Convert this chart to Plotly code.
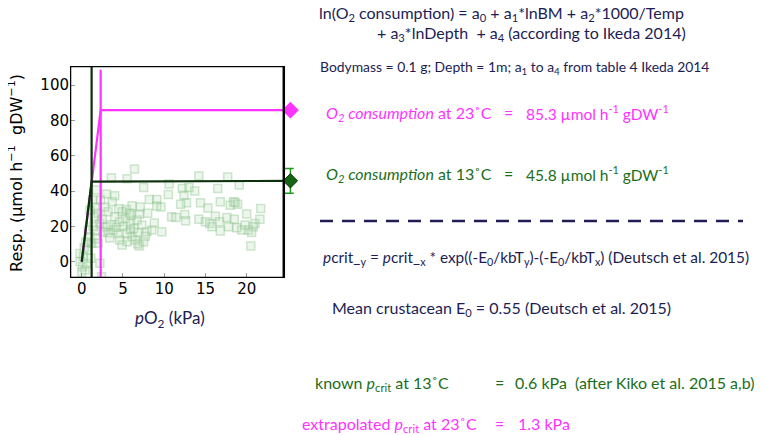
import plotly.graph_objects as go

obs_po2 = [6.4, 5.5, 3.6, 14.2, 17.7, 10.6, 7.5, 19.1, 12.2, 13.0, 13.7, 16.5, 3.0, 4.0,
           10.5, 8.2, 9.1, 12.4, 3.7, 12.7, 14.4, 16.8, 18.4, 18.9, 18.0, 18.6, 9.1, 9.6,
           7.1, 6.1, 5.4, 4.9, 3.2, 12.0, 15.3, 21.7, 20.0, 2.0, 8.0, 10.9, 11.4, 12.5,
           12.6, 16.2, 17.6, 18.5, 14.2, 15.0, 15.5, 16.7, 17.8, 18.8, 15.8, 16.8, 21.6,
           21.0, 20.8, 20.2, 19.4, 20.6, 20.5, 19.8, 9.7, 7.9, 7.3, 6.7, 5.9, 5.3, 4.6,
           4.0, 2.2, 1.8, 2.6, 3.2, 3.8, 4.4, 4.6, 5.5, 6.1, 6.5, 7.0, 7.5, 5.5, 5.9,
           1.0, 1.2, 0.6, 0.2, -0.2, 0.1, 0.4, -0.2, 2.2, 2.4, 3.0, 1.5, 1.6, 1.8, 1.3,
           1.0, 2.5, 3.5, 4.2, 5.0, 6.3, 6.8, 7.7, 8.5, 8.8, 6.0, 7.0, 5.8, 4.5, 2.8,
           2.3, 1.4, 0.8, 0.5, 0.3, 1.7, 2.0, 3.4, 4.9, 6.8, 0.0, 0.6, 1.1]
obs_resp = [52.5, 47.0, 47.5, 48.5, 48.0, 44.0, 42.0, 43.4, 41.5, 42.0, 40.0, 41.5, 38.3, 37.4,
            38.0, 35.3, 35.3, 37.7, 34.0, 33.4, 33.4, 34.0, 34.0, 32.5, 32.0, 33.5, 31.5, 31.0,
            31.0, 31.7, 29.6, 28.3, 28.3, 32.5, 30.4, 30.2, 27.0, 27.4, 27.4, 25.5, 25.0, 26.8,
            23.2, 25.8, 25.0, 24.0, 24.0, 22.6, 21.7, 22.6, 19.8, 19.2, 19.8, 17.4, 24.0,
            21.7, 19.8, 17.9, 17.9, 16.6, 8.9, 20.8, 17.0, 17.0, 20.8, 23.6, 21.7, 24.5, 22.6,
            25.5, 21.7, 17.9, 17.0, 16.4, 17.9, 16.0, 12.3, 11.3, 14.2, 12.3, 8.9, 11.3, 16.4, 18.3,
            14.2, 10.4, 6.6, 2.8, 0.0, -2.8, -4.7, 4.7, -0.9, -8.5, 19.8, 25.5, 31.0, 40.6, 34.9,
            29.2, 24.0, 21.0, 19.5, 20.0, 19.0, 16.5, 14.5, 18.0, 22.0, 26.5, 27.0, 27.5, 30.0, 31.0,
            35.0, 20.0, 18.0, 11.0, 8.0, 13.0, 10.5, 13.5, 9.5, 10.0, -6.0, -1.0, 2.0]

# model curves (linear up to pcrit, then plateau)
warm_x = [0, 2.3, 25.3]
warm_y = [0, 85.8, 85.8]
cold_x = [0, 1.2, 25.3]
cold_y = [0, 45.3, 45.8]

# pcrit verticals
warm_pcrit_x = [2.3, 2.3]
warm_pcrit_y = [-9.2, 108.7]
cold_pcrit_x = [1.2, 1.2]
cold_pcrit_y = [-9.2, 110.8]

# predicted consumption (Ikeda 2014) at the right edge
warm_pred_x = [25.3]
warm_pred_y = [85.8]
cold_pred_x = [25.3]
cold_pred_y = [45.8]
cold_pred_err = [7.0]

x_ticks = [0, 5, 10, 15, 20]
y_ticks = [0, 20, 40, 60, 80, 100]
x_range = [-1.42, 25.7]
x_box_right = 24.5
y_range = [-9.2, 110.8]

# page body has an 8px margin, so the figure is placed 8px in from the corner
OFF = 8
W, H = 765 - OFF, 435 - OFF
NAVY = "#211d54"
MAGENTA = "#ff33ff"
GREEN = "#1b6e1b"
DARK = "#0b300b"
TXT_FONT = "Lato"
NB = "\u00a0"


def px(v):
    return (v - OFF) / W


def py(v):
    return 1 - (v - OFF) / H


fig = go.Figure()

fig.add_trace(go.Scatter(
    x=obs_po2, y=obs_resp, mode="markers",
    marker=dict(symbol="square", size=8, color="rgba(180,218,180,0.25)",
                line=dict(color="rgba(140,195,140,0.4)", width=1.5)),
))
fig.add_trace(go.Scatter(x=warm_pcrit_x, y=warm_pcrit_y, mode="lines",
                         line=dict(color=MAGENTA, width=2.2)))
fig.add_trace(go.Scatter(x=warm_x, y=warm_y, mode="lines",
                         line=dict(color=MAGENTA, width=2.2)))
fig.add_trace(go.Scatter(x=cold_pcrit_x, y=cold_pcrit_y, mode="lines",
                         line=dict(color=DARK, width=2.2)))
fig.add_trace(go.Scatter(x=cold_x, y=cold_y, mode="lines",
                         line=dict(color=DARK, width=2.2)))
fig.add_trace(go.Scatter(
    x=warm_pred_x, y=warm_pred_y, mode="markers", cliponaxis=False,
    marker=dict(symbol="diamond", size=13, color=MAGENTA)
))
fig.add_trace(go.Scatter(
    x=cold_pred_x, y=cold_pred_y, mode="markers", cliponaxis=False,
    marker=dict(symbol="diamond", size=11, color="#136413", line=dict(color=DARK, width=1)),
    error_y=dict(type="data", array=cold_pred_err, color="#1c9a1c", thickness=1.5, width=7)
))

# axis frame (right edge inside the x range so the predicted points sit outside it)
fig.add_shape(type="rect", xref="x", yref="y", x0=x_range[0], x1=x_box_right,
              y0=y_range[0], y1=y_range[1], line=dict(color="black", width=2.5), layer="above")
# separator
fig.add_shape(type="line", xref="paper", yref="paper", x0=px(320), x1=px(743),
              y0=py(221), y1=py(221), line=dict(color=NAVY, width=2.5, dash="13px,9px"))


def note(text, x, y, size=16, color=NAVY, family=TXT_FONT, anchor="left", angle=0):
    fig.add_annotation(text=text, x=px(x), y=py(y), xref="paper", yref="paper",
                       xanchor=anchor, yanchor="middle", showarrow=False, textangle=angle,
                       font=dict(family=family, size=size, color=color))


note("ln(O<sub>2</sub> consumption) = a<sub>0</sub> + a<sub>1</sub>*lnBM + a<sub>2</sub>*1000/Temp", 317, 13)
note("+ a<sub>3</sub>*lnDepth " + NB + "+ a<sub>4</sub> (according to Ikeda 2014)", 375, 34)
note("Bodymass = 0.1 g; Depth = 1m; a<sub>1</sub> to a<sub>4</sub> from table 4 Ikeda 2014",
     318, 68, size=13.9)

note("<i>O<sub>2</sub> consumption</i> at 23˚C", 324, 113, color=MAGENTA)
note("=", 502, 112, color=MAGENTA)
note("85.3 µmol h<sup>-1</sup> gDW<sup>-1</sup>", 524, 112, size=15.5, color=MAGENTA)
note("<i>O<sub>2</sub> consumption</i> at 13˚C", 324, 174, color=GREEN)
note("=", 502, 173, color=GREEN)
note("45.8 µmol h<sup>-1</sup> gDW<sup>-1</sup>", 524, 173, size=15.5, color=GREEN)

note("<i>p</i>crit_<sub>y</sub> = <i>p</i>crit_<sub>x</sub> * exp((-E<sub>0</sub>/kbT<sub>y</sub>)"
     "-(-E<sub>0</sub>/kbT<sub>x</sub>) (Deutsch et al. 2015)", 321, 258, size=15.4)
note("Mean crustacean E<sub>0</sub> = 0.55 (Deutsch et al. 2015)", 330, 308)

note("known <i>p</i><sub>crit</sub> at 13˚C", 313, 383, color=GREEN)
note("=", 493, 382, color=GREEN)
note("0.6 kPa " + NB + "(after Kiko et al. 2015 a,b)", 513, 382, color=GREEN)
note("extrapolated <i>p</i><sub>crit</sub> at 23˚C", 300, 424, color=MAGENTA)
note("=", 493, 423, color=MAGENTA)
note("1.3 kPa", 516, 423, color=MAGENTA)

# axis titles
note("<i>p</i>O<sub>2</sub> (kPa)", 170, 319, size=17, color=NAVY, anchor="center")
note("Resp. (µmol h<sup>−1</sup> " + NB + "gDW<sup>−1</sup>)", 15, 173, size=16, color="black",
     family="DejaVu Sans", anchor="center", angle=-90)

axis_font = dict(family="DejaVu Sans", size=15, color="black")
fig.update_layout(
    width=W, height=H,
    margin=dict(l=0, r=0, t=0, b=0),
    paper_bgcolor="white", plot_bgcolor="white",
    showlegend=False,
    xaxis=dict(domain=[px(70), px(293.7)], range=x_range, tickvals=x_ticks,
               ticks="inside", ticklen=5, tickcolor="#999999", tickwidth=1.2,
               showgrid=False, zeroline=False, showline=False, tickfont=axis_font),
    yaxis=dict(domain=[py(278), py(66)], range=y_range, tickvals=y_ticks,
               ticks="inside", ticklen=5, tickcolor="#999999", tickwidth=1.2,
               showgrid=False, zeroline=False, showline=False, tickfont=axis_font),
)

fig.write_html("out.html")
